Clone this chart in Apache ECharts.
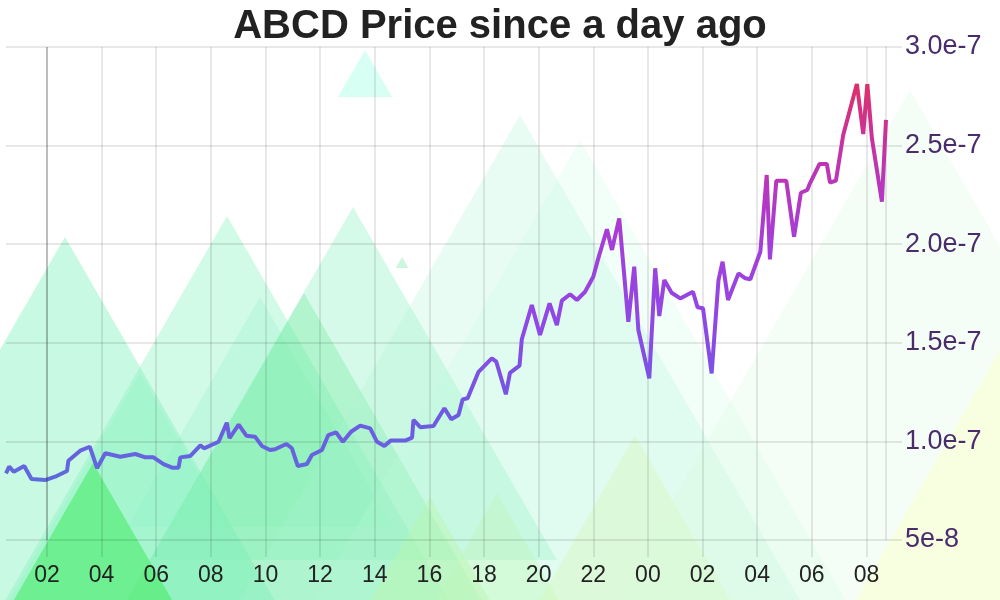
<!DOCTYPE html>
<html><head><meta charset="utf-8">
<script src="https://cdn.jsdelivr.net/npm/echarts@6/dist/echarts.min.js"></script>
<style>html,body{margin:0;padding:0;background:#fff}#c{width:1000px;height:600px}</style>
</head><body><div id="c"></div>
<script>
const titleText = 'ABCD Price since a day ago';
const day1Times = ['00:30','00:37','00:47','01:10','01:26','01:56','02:18','02:44','02:47','03:13',
 '03:34','03:50','04:08','04:41','05:14','05:36','05:54','06:16','06:35','06:49',
 '06:53','07:15','07:37','07:45','08:17','08:35','08:41','09:01','09:18','09:37',
 '09:52','10:10','10:21','10:46','10:58','11:11','11:31','11:42','12:04','12:18',
 '12:35','12:50','13:08','13:28','13:50','14:05','14:21','14:35','15:07','15:22',
 '15:25','15:40','16:09','16:33','16:48','17:04','17:13','17:24','17:48','18:17',
 '18:27','18:48','18:57','19:18','19:23','19:45','20:03','20:24','20:40','20:51',
 '21:09','21:24','21:42','22:00','22:11','22:30','22:41','22:57','23:17','23:30','23:39'];
const day2Times = ['00:03','00:16','00:25','00:36','00:52','01:11','01:39','01:49','02:01','02:20',
 '02:35','02:44','02:56','03:19','03:34','03:45','04:07','04:21','04:28','04:42',
 '05:04','05:21','05:36','05:50','05:56','06:17','06:33','06:40','06:53','07:09',
 '07:39','07:53','08:02','08:12','08:34','08:43'];
// price in units of 1e-8
const priceE8 = [8.38,8.72,8.46,8.75,8.09,8.04,8.21,8.50,9.02,9.53,
 9.73,8.64,9.40,9.22,9.36,9.19,9.19,8.85,8.67,8.67,
 9.19,9.26,9.80,9.65,9.98,10.95,10.16,10.85,10.29,10.24,
 9.77,9.56,9.60,9.87,9.65,8.75,8.85,9.31,9.56,10.32,
 10.46,9.98,10.49,10.80,10.66,9.98,9.77,10.04,10.04,10.19,
 11.09,10.72,10.78,11.68,11.12,11.34,12.13,12.19,13.53,14.21,
 14.04,12.39,13.48,13.84,15.18,16.92,15.40,17.00,15.90,17.14,
 17.46,17.17,17.59,18.35,19.28,20.76,19.71,21.31,16.07,18.86,15.65,
 13.20,18.78,16.36,18.18,17.54,17.25,17.59,16.80,16.75,13.45,
 18.18,19.11,17.17,18.52,18.27,18.22,19.62,23.51,19.23,23.22,
 23.22,20.38,22.61,22.75,23.09,24.07,24.07,23.12,23.22,25.54,
 28.12,25.59,28.12,25.37,22.16,26.30];
// x tick positions in minutes since the first midnight (02:00 day 1 ... 08:00 day 2)
const xTickMinutes = [120,240,360,480,600,720,840,960,1080,1200,1320,1440,1560,1680,1800,1920];
const yTickLabels = ['5e-8','1.0e-7','1.5e-7','2.0e-7','2.5e-7','3.0e-7'];

const toMin = (t, dayOffset) => { const p = t.split(':'); return dayOffset + (+p[0]) * 60 + (+p[1]); };
const xMinutes = day1Times.map(t => toMin(t, 0)).concat(day2Times.map(t => toMin(t, 1440)));
const seriesData = xMinutes.map((m, i) => [m, priceE8[i]]);

// decorative background triangles: [apexX, apexY, baseY, fill]
const bgTriangles = [
 [65, 237, 700, 'rgba(140,242,195,0.48)'],
 [227, 216, 700, 'rgba(140,242,195,0.40)'],
 [353, 207, 560, 'rgba(140,242,195,0.36)'],
 [260, 297, 527, 'rgba(140,242,195,0.25)'],
 [304, 293, 700, 'rgba(100,234,150,0.32)'],
 [140, 373, 700, 'rgba(140,242,195,0.30)'],
 [93, 463, 700, 'rgba(70,234,100,0.58)'],
 [430, 497, 700, 'rgba(190,246,145,0.45)'],
 [497, 493, 700, 'rgba(200,248,160,0.38)'],
 [402, 257, 268, 'rgba(170,240,200,0.6)'],
 [365, 50, 97, 'rgba(200,255,240,0.7)'],
 [520, 115, 700, 'rgba(170,245,212,0.26)'],
 [580, 140, 700, 'rgba(190,248,222,0.20)'],
 [635, 435, 700, 'rgba(215,250,185,0.40)'],
 [910, 90, 700, 'rgba(220,250,222,0.28)'],
 [1000, 350, 700, 'rgba(248,255,205,0.55)']
];
const gridColor = 'rgba(0,0,0,0.12)';
const font = 'Liberation Sans, Arial, sans-serif';

const bgElements = bgTriangles.map(t => {
  const h = (t[2] - t[1]) / 1.732;
  return {type: 'polygon', z: -20, silent: true,
    shape: {points: [[t[0], t[1]], [t[0] - h, t[2]], [t[0] + h, t[2]]]},
    style: {fill: t[3]}};
});

const chart = echarts.init(document.getElementById('c'), null, {renderer: 'canvas'});
chart.setOption({
  animation: false,
  backgroundColor: '#ffffff',
  graphic: {elements: bgElements},
  title: {text: titleText, left: 'center', top: 2,
    textStyle: {fontSize: 40, fontWeight: 'bold', color: '#222', fontFamily: font}},
  grid: {left: 6, right: 114, top: 47, bottom: 60, containLabel: false},
  visualMap: {show: false, type: 'continuous', seriesIndex: 0, dimension: 1, min: 8, max: 28.2,
    inRange: {color: ['#5f6adc', '#7257e2', '#8f48e6', '#a53ed8', '#c034b0', '#de3068']}},
  xAxis: {
    type: 'value', min: 'dataMin', max: 'dataMax',
    axisLine: {show: false},
    axisTick: {show: true, length: 17, lineStyle: {color: gridColor, width: 1.5}, customValues: xTickMinutes},
    axisLabel: {customValues: xTickMinutes, fontSize: 23, color: '#222', margin: 24, fontFamily: font,
      formatter: v => String(Math.floor(v / 60) % 24).padStart(2, '0')},
    splitLine: {show: true, lineStyle: {color: gridColor, width: 1.5}}
  },
  yAxis: {
    type: 'value', position: 'right', min: 5, max: 30, interval: 5,
    axisLine: {show: true, lineStyle: {color: gridColor, width: 1.5}},
    axisTick: {show: true, length: 16, lineStyle: {color: gridColor, width: 1.5}},
    axisLabel: {fontSize: 27, color: '#4a2c6d', margin: 19, fontFamily: font, padding: [6, 0, 0, 0],
      formatter: v => yTickLabels[Math.round((v - 5) / 5)]},
    splitLine: {show: true, lineStyle: {color: gridColor, width: 1.5}}
  },
  series: [{
    type: 'line', data: seriesData, symbol: 'none', smooth: false,
    lineStyle: {width: 4},
    markLine: {silent: true, symbol: ['none', 'none'], label: {show: false},
      lineStyle: {color: 'rgba(0,0,0,0.25)', width: 1.5, type: 'solid'},
      data: [{xAxis: xTickMinutes[0]}]}
  }]
});
</script></body></html>
